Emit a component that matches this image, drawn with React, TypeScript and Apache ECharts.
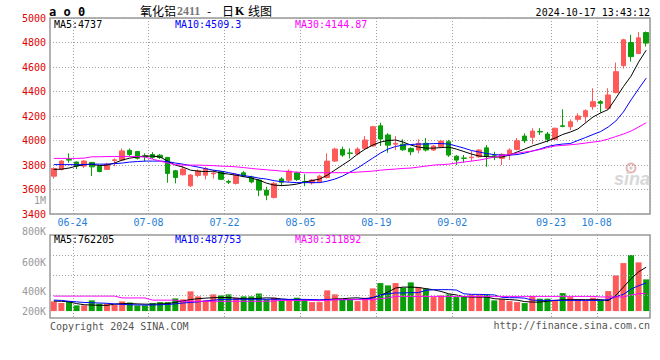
import React, { useEffect, useRef } from 'react';
import * as echarts from 'echarts';

const dates = [
  '06-19','06-20','06-21','06-24','06-25','06-26','06-27','06-28',
  '07-01','07-02','07-03','07-04','07-05',
  '07-08','07-09','07-10','07-11','07-12',
  '07-15','07-16','07-17','07-18','07-19',
  '07-22','07-23','07-24','07-25','07-26',
  '07-29','07-30','07-31','08-01','08-02',
  '08-05','08-06','08-07','08-08','08-09',
  '08-12','08-13','08-14','08-15','08-16',
  '08-19','08-20','08-21','08-22','08-23',
  '08-26','08-27','08-28','08-29','08-30',
  '09-02','09-03','09-04','09-05','09-06',
  '09-09','09-10','09-11','09-12','09-13',
  '09-18','09-19','09-20',
  '09-23','09-24','09-25','09-26','09-27',
  '09-30',
  '10-08','10-09','10-10','10-11',
  '10-14','10-15','10-16'
];

const labelDates = ['06-24', '07-08', '07-22', '08-05', '08-19', '09-02', '09-23', '10-08'];

const opens = [
  3709,3764,3845,3824,3791,3821,3790,3764,3836,3840,
  3920,3910,3875,3885,3880,3862,3753,3720,3630,3715,
  3717,3728,3745,3665,3650,3736,3700,3677,3595,3535,
  3686,3676,3736,3665,3654,3663,3698,3832,3927,3898,
  3890,3936,3955,4120,4045,3970,3970,3935,3922,3977,
  3922,3948,3990,3872,3857,3860,3867,3940,3875,3854,
  3882,3927,4036,4026,4074,4053,4010,4120,4112,4173,
  4194,4276,4317,4263,4391,4611,4800,4710,4881
];
const closes = [
  3772,3832,3840,3791,3832,3785,3747,3807,3842,3915,
  3885,3855,3868,3862,3862,3731,3698,3767,3718,3752,
  3772,3735,3683,3660,3718,3709,3662,3595,3554,3650,
  3659,3750,3682,3660,3677,3709,3832,3930,3881,3895,
  3930,4004,4112,4012,3962,3977,3924,3908,3977,3922,
  3955,3995,3881,3840,3854,3864,3922,3873,3872,3887,
  3922,3998,3998,4077,4070,4010,4100,4115,4153,4200,
  4243,4317,4304,4372,4562,4822,4685,4838,4795
];
const lows = [
  3689,3755,3818,3767,3775,3710,3740,3760,3790,3835,
  3870,3845,3830,3850,3850,3655,3650,3715,3620,3700,
  3682,3690,3680,3645,3640,3700,3650,3545,3513,3527,
  3627,3660,3670,3627,3640,3655,3690,3825,3866,3854,
  3880,3930,3950,3955,3900,3920,3915,3880,3895,3910,
  3915,3940,3866,3800,3820,3830,3860,3785,3840,3800,
  3840,3920,3980,3970,4045,3985,4005,4108,4085,4153,
  4145,4250,4227,4255,4385,4587,4644,4705,4767
];
const highs = [
  3780,3840,3895,3830,3840,3825,3795,3818,3855,3935,
  3935,3915,3895,3905,3890,3866,3760,3790,3725,3765,
  3785,3758,3750,3680,3730,3750,3712,3685,3622,3663,
  3700,3764,3745,3725,3685,3720,3895,3940,3950,3935,
  3945,4036,4120,4145,4060,4036,4010,3945,4010,4020,
  3965,4005,4005,3880,3882,3915,3930,3963,3908,3895,
  3936,4020,4058,4100,4100,4070,4105,4255,4173,4222,
  4255,4427,4330,4427,4636,4830,4863,4885,4890
];

const ma5 = [
  3764,3766,3775,3791,3803,3807,3795,3799,3816,3840,
  3856,3865,3873,3873,3865,3832,3799,3783,3758,3750,
  3746,3750,3734,3726,3717,3705,3693,3677,3652,3636,
  3632,3636,3644,3660,3673,3685,3717,3758,3799,3840,
  3889,3930,3963,3987,4000,4004,3987,3963,3946,3938,
  3938,3942,3946,3930,3910,3889,3873,3869,3865,3865,
  3881,3906,3930,3955,3975,3996,4020,4049,4069,4094,
  4143,4192,4225,4253,4345,4440,4525,4640,4737
];
const ma10 = [
  3803,3803,3803,3803,3803,3807,3807,3807,3811,3816,
  3824,3828,3832,3832,3832,3828,3816,3807,3795,3783,
  3770,3758,3750,3738,3726,3713,3705,3693,3685,3672,
  3664,3660,3656,3656,3656,3656,3668,3685,3709,3742,
  3775,3816,3856,3897,3930,3951,3963,3967,3971,3971,
  3975,3975,3971,3955,3938,3918,3906,3893,3885,3881,
  3881,3885,3897,3914,3930,3951,3963,3971,3975,4000,
  4024,4049,4073,4110,4159,4233,4331,4421,4509
];
const ma30 = [
  3854,3854,3854,3854,3856,3867,3867,3869,3869,3869,
  3869,3869,3865,3848,3832,3816,3803,3799,3799,3799,
  3797,3795,3791,3789,3785,3779,3772,3766,3761,3756,
  3750,3746,3742,3737,3737,3737,3737,3737,3737,3738,
  3742,3746,3750,3758,3763,3767,3772,3775,3783,3791,
  3799,3803,3807,3816,3824,3832,3840,3852,3865,3877,
  3885,3897,3906,3914,3926,3942,3955,3960,3965,3971,
  3979,3987,3995,4012,4032,4053,4077,4110,4145
];

// volume in thousands
const volumesK = [
  168,139,168,99,99,186,128,128,111,168,
  151,99,99,139,156,156,220,203,342,255,
  186,290,272,290,232,255,255,307,203,232,
  186,203,232,203,156,156,359,290,198,198,
  173,232,394,486,446,486,406,498,416,389,
  243,272,290,243,255,290,278,290,186,208,
  173,156,139,255,215,215,186,312,243,208,
  186,232,198,347,619,833,972,845,550
];
const volMa5K = [
  174,170,160,130,110,105,100,100,120,130,
  130,125,120,120,125,130,150,175,200,215,
  225,232,235,235,225,215,215,220,230,225,
  210,200,200,195,185,180,200,210,215,225,
  230,215,235,272,330,400,416,416,410,389,
  370,340,300,280,250,243,243,243,215,208,
  200,190,165,156,156,170,186,195,198,198,
  198,198,198,180,272,416,560,680,762
];
const volMa10K = [
  190,185,170,160,150,145,140,135,125,115,
  110,108,105,105,110,115,125,140,150,160,
  175,190,200,205,205,205,205,205,205,205,
  205,203,203,203,200,198,198,198,198,200,
  205,210,230,280,300,315,315,320,320,360,
  370,372,372,365,300,290,290,285,280,240,
  232,232,225,190,186,186,186,186,186,186,
  186,186,186,200,250,290,380,440,488
];
const volMa30K = [
  260,260,260,260,260,260,260,260,260,228,
  228,228,228,190,190,190,190,170,170,170,
  170,170,170,170,170,170,170,170,170,175,
  185,185,185,185,185,185,185,198,198,198,
  198,198,198,215,228,255,255,255,255,255,
  255,255,255,255,255,255,255,255,255,255,
  255,255,255,255,255,255,255,255,255,255,
  255,255,245,245,245,245,280,300,312
];

const volTickLabels = ['800K', '600K', '400K', '200K'];
const volGridValues = [270000, 620000, 970000];

const RED = '#ff5a5a';
const GREEN = '#0a9e0a';
const MONO = "'DejaVu Sans Mono', monospace";
const GRIDC = '#a0a0a0';

export default function App() {
  const ref = useRef<HTMLDivElement>(null);
  useEffect(() => {
    if (!ref.current) return;
    const chart = echarts.init(ref.current, null, { renderer: 'svg' });
    const labelSet = new Set(labelDates.map((d) => dates.indexOf(d)));
    const kData = dates.map((_, i) => [opens[i], closes[i], lows[i], highs[i]]);
    const volData = volumesK.map((v, i) => ({
      value: v * 1000,
      itemStyle: { color: closes[i] >= opens[i] ? RED : GREEN },
    }));
    const splitX = {
      show: true,
      interval: (idx: number) => labelSet.has(idx),
      lineStyle: { color: GRIDC, type: [1, 2], width: 1 },
    };
    const lineS = (name: string, data: number[], color: string, xi: number, yi: number) => ({
      name,
      type: 'line',
      data,
      xAxisIndex: xi,
      yAxisIndex: yi,
      showSymbol: false,
      symbol: 'none',
      silent: true,
      lineStyle: { color, width: 1 },
      itemStyle: { color },
      z: 3,
    });
    const txt = (text: string, x: number, y: number, fill: string, font: string, align = 'left') => ({
      type: 'text',
      x,
      y,
      silent: true,
      style: { text, fill, font, textAlign: align, textVerticalAlign: 'middle' },
    });

    const option: any = {
      animation: false,
      backgroundColor: '#fff',
      grid: [
        { left: 50, top: 18, width: 600, height: 196, show: true, borderColor: '#999', borderWidth: 1.5, backgroundColor: 'transparent' },
        { left: 50, top: 235, width: 600, height: 83, show: true, borderColor: '#999', borderWidth: 1.5, backgroundColor: 'transparent' },
      ],
      xAxis: [
        {
          type: 'category', gridIndex: 0, data: dates, boundaryGap: true,
          axisLine: { show: false }, axisTick: { show: false },
          axisLabel: {
            show: true, interval: (idx: number) => labelSet.has(idx),
            color: '#1f80d8', fontFamily: MONO, fontSize: 10, margin: 3,
            padding: [0, 8, 0, 0],
          },
          splitLine: splitX,
        },
        {
          type: 'category', gridIndex: 1, data: dates, boundaryGap: true,
          axisLine: { show: false }, axisTick: { show: false },
          axisLabel: { show: false },
          splitLine: splitX,
        },
      ],
      yAxis: [
        {
          type: 'value', gridIndex: 0, min: 3400, max: 5000, interval: 200,
          axisLine: { show: false }, axisTick: { show: false },
          axisLabel: {
            color: '#e00000', fontFamily: MONO, fontSize: 10, margin: 4, padding: [0, 0, 4, 0],
            formatter: (v: number) => String(v),
          },
          splitLine: { show: true, lineStyle: { color: GRIDC, type: [1, 2], width: 1 } },
        },
        {
          type: 'value', gridIndex: 1, min: -120000, max: 1320000,
          axisLine: { show: false }, axisTick: { show: false },
          axisLabel: { show: false }, splitLine: { show: false },
        },
      ],
      series: [
        {
          name: 'K', type: 'candlestick', xAxisIndex: 0, yAxisIndex: 0,
          data: kData, barWidth: 5, silent: true,
          itemStyle: { color: RED, color0: GREEN, borderColor: RED, borderColor0: GREEN, borderWidth: 1 },
          z: 2,
        },
        lineS('MA5', ma5, '#000000', 0, 0),
        lineS('MA10', ma10, '#0000ff', 0, 0),
        lineS('MA30', ma30, '#ff00ff', 0, 0),
        {
          name: 'VOL', type: 'bar', xAxisIndex: 1, yAxisIndex: 1,
          data: volData, barWidth: 6, silent: true, z: 2,
          markLine: {
            silent: true, symbol: ['none', 'none'], label: { show: false },
            lineStyle: { color: GRIDC, type: [1, 2], width: 1 },
            data: volGridValues.map((v) => ({ yAxis: v })),
          },
        },
        lineS('VMA5', volMa5K.map((v) => v * 1000), '#000000', 1, 1),
        lineS('VMA10', volMa10K.map((v) => v * 1000), '#0000ff', 1, 1),
        lineS('VMA30', volMa30K.map((v) => v * 1000), '#ff00ff', 1, 1),
      ],
      graphic: [
        txt('a o 0', 49, 12, '#000', `bold 12px ${MONO}`),
        txt('氧化铝', 140, 10.5, '#000', "12px 'Noto Sans CJK SC'"),
        txt('2411', 177, 11, '#777', "bold 12px 'Liberation Serif'"),
        txt('-', 207, 10.5, '#000', "12px 'Noto Sans CJK SC'"),
        txt('日', 222, 10.5, '#000', "12px 'Noto Sans CJK SC'"),
        txt('K', 235, 11, '#000', "bold 12px 'Liberation Serif'"),
        txt('线图', 248, 10.5, '#000', "12px 'Noto Sans CJK SC'"),
        txt('2024-10-17 13:43:12', 650, 12.5, '#000', `10px ${MONO}`, 'right'),
        txt('MA5:4737', 54, 24, '#000', `10px ${MONO}`),
        txt('MA10:4509.3', 175, 24, '#0000ff', `10px ${MONO}`),
        txt('MA30:4144.87', 295, 24, '#ff00ff', `10px ${MONO}`),
        txt('1M', 46, 200, '#999', `10px ${MONO}`, 'right'),
        txt(volTickLabels[0], 46, 231, '#999', `10px ${MONO}`, 'right'),
        txt(volTickLabels[1], 46, 262, '#999', `10px ${MONO}`, 'right'),
        txt(volTickLabels[2], 46, 291, '#999', `10px ${MONO}`, 'right'),
        txt(volTickLabels[3], 46, 311, '#999', `10px ${MONO}`, 'right'),
        txt('MA5:762205', 54, 239, '#000', `10px ${MONO}`),
        txt('MA10:487753', 175, 239, '#0000ff', `10px ${MONO}`),
        txt('MA30:311892', 295, 239, '#ff00ff', `10px ${MONO}`),
        txt('Copyright 2024 SINA.COM', 50, 326, '#555', `10px ${MONO}`),
        txt('http://finance.sina.com.cn', 650, 325, '#555', `10px ${MONO}`, 'right'),
        { type: 'circle', shape: { cx: 631, cy: 168, r: 4.5 }, silent: true, style: { fill: 'none', stroke: '#e8b4b4', lineWidth: 2 } },
        { type: 'circle', shape: { cx: 631, cy: 168, r: 1.8 }, silent: true, style: { fill: '#d8d0d0' } },
        txt('sina', 614, 179, '#d8d8d8', "italic bold 18px 'Liberation Sans'"),
      ],
    };
    chart.setOption(option);
    return () => chart.dispose();
  }, []);
  return (
    <div
      ref={ref}
      style={{ position: 'fixed', left: 0, top: 0, width: 660, height: 360, background: '#fff' }}
    />
  );
}
